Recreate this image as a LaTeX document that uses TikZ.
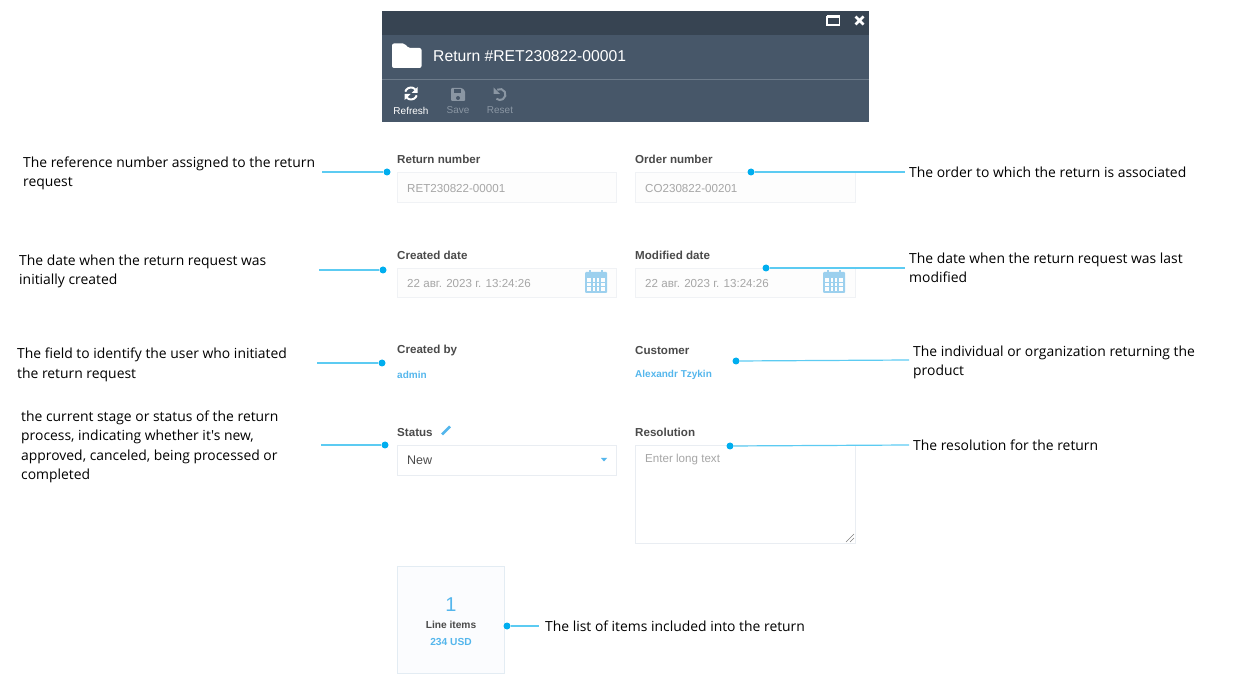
\documentclass[tikz,border=0pt]{standalone}
\usepackage{fontspec}
\setmainfont{Open Sans}[Ligatures=TeXOff]
\newfontfamily\uifont{Liberation Sans}
\usetikzlibrary{positioning}
\definecolor{pinblue}{HTML}{00AEEF}
\definecolor{pinline}{HTML}{5CCBF2}
\definecolor{barDark}{HTML}{374452}
\definecolor{barMain}{HTML}{475769}
\definecolor{barRule}{HTML}{6D7B8A}
\definecolor{barMuted}{HTML}{8A96A3}
\definecolor{fieldRule}{HTML}{F0F2F5}
\definecolor{openRule}{HTML}{E9EDF2}
\definecolor{tileRule}{HTML}{E3ECF3}
\definecolor{tileFill}{HTML}{FBFCFE}
\definecolor{fieldFill}{HTML}{FDFDFD}
\definecolor{labelInk}{HTML}{4A4A4A}
\definecolor{hintInk}{HTML}{A6A6A6}
\definecolor{linkBlue}{HTML}{54B6EC}
\definecolor{calBlue}{HTML}{9CD0EE}
\begin{document}
\begin{tikzpicture}[x=1pt,y=-1pt,
  note/.style={anchor=west,inner sep=0pt,align=left,text=black,font=\fontsize{13.9}{19.5}\selectfont},
  pin/.style={circle,fill=pinblue,inner sep=0pt,minimum size=7pt},
  pinwire/.style={pinline,line width=1.2pt},
  fieldlabel/.style={anchor=west,inner sep=0pt,text=labelInk,font=\uifont\fontsize{11.6}{14}\selectfont\bfseries},
  fieldbox/.style={draw=fieldRule,fill=fieldFill,line width=1pt},
  openbox/.style={draw=openRule,fill=white,line width=1pt},
  hint/.style={anchor=west,inner sep=0pt,text=hintInk,font=\uifont\fontsize{11.6}{14}\selectfont},
  link/.style={anchor=west,inner sep=0pt,text=linkBlue,font=\uifont\fontsize{10}{12}\selectfont\bfseries},
  toolbtn/.style={inner sep=0pt,font=\uifont\fontsize{10}{12}\selectfont}]
\useasboundingbox (0,0) rectangle (1248,700);
% Window header
\fill[barMain] (382,11) rectangle (869,122);
\fill[barDark] (382,11) rectangle (869,35);
\draw[barRule] (382,79) -- (869,79);
\node[anchor=west,inner sep=0pt,text=white,font=\uifont\fontsize{15.7}{20}\selectfont] (title) at (433,56) {Return \#RET230822-00001};
% Window buttons
\draw[white,line width=1.3pt] (827,17) rectangle (839.5,25);
\draw[white,line width=3pt] (826.5,17) -- (840,17);
\draw[white,line width=2.6pt] (855.5,16.5) -- (863.5,24.5) (863.5,16.5) -- (855.5,24.5);
% Folder icon
\fill[white,rounded corners=2pt] (392,68) -- (392,43.5) -- (405,43.5) -- (408,48) -- (421.5,48) -- (421.5,68) -- cycle;
% Toolbar
\node[toolbtn,text=white] (refresh) at (411,110.5) {Refresh};
\node[toolbtn,text=barMuted] (save) at (458,110.5) {Save};
\node[toolbtn,text=barMuted] (reset) at (500,110.5) {Reset};
\draw[white,line width=2pt] (411,93.5) ++(198:6) arc (198:315:6);
\draw[white,line width=2pt] (411,93.5) ++(18:6) arc (18:135:6);
\fill[white] (417.5,87) -- (417.5,93) -- (411.5,93) -- cycle;
\fill[white] (404.5,100) -- (404.5,94) -- (410.5,94) -- cycle;
\fill[barMuted,rounded corners=1pt] (451,88) -- (462,88) -- (465,91) -- (465,101) -- (451,101) -- cycle;
\fill[barMain] (454,89) rectangle (461,93);
\fill[barMain] (458,98) circle [radius=2];
\draw[barMuted,line width=2pt] (500,94.5) ++(-120:5.5) arc (-120:130:5.5);
\fill[barMuted] (493.5,87.5) -- (493.5,94) -- (500,94) -- cycle;
% Fields, first row
\node[fieldlabel] (returnlbl) at (397,159) {Return number};
\node[fieldlabel] (orderlbl) at (635,159) {Order number};
\draw[fieldbox] (397,173) rectangle (616.5,203);
\draw[fieldbox] (635,173) rectangle (855,203);
\node[hint] (returnval) at (407,189) {RET230822-00001};
\node[hint] (orderval) at (645,189) {CO230822-00201};
% Fields, second row
\node[fieldlabel] (createdlbl) at (397,255) {Created date};
\node[fieldlabel] (modifiedlbl) at (635,255) {Modified date};
\draw[fieldbox] (397,269) rectangle (616.5,298);
\draw[fieldbox] (635,269) rectangle (855,298);
\node[hint] (createdval) at (407,284) {22 авг. 2023 г. 13:24:26};
\node[hint] (modifiedval) at (645,284) {22 авг. 2023 г. 13:24:26};
% Calendar icons
\foreach \cx in {585,823} {
  \fill[calBlue,rounded corners=1pt] (\cx,272) rectangle ++(22,21);
  \fill[fieldFill] (\cx+2,278) rectangle ++(18,13);
  \fill[calBlue] (\cx+4,270) rectangle ++(2,4);
  \fill[calBlue] (\cx+16,270) rectangle ++(2,4);
  \foreach \gx in {6,10,14} \fill[calBlue] (\cx+\gx,278) rectangle ++(1.5,13);
  \foreach \gy in {282,286} \fill[calBlue] (\cx+2,\gy) rectangle ++(18,1.5);
}
% Fields, third row
\node[fieldlabel] (bylbl) at (397,350.5) {Created by};
\node[fieldlabel] (customerlbl) at (635,350.5) {Customer};
\node[link] (byval) at (397,374.5) {admin};
\node[link] (customerval) at (635,374.5) {Alexandr Tzykin};
% Status and resolution
\node[fieldlabel] (statuslbl) at (397,432.5) {Status};
\node[fieldlabel] (resolutionlbl) at (635,432.5) {Resolution};
\draw[linkBlue,line width=2.6pt] (442,434.5) -- (450,426.5);
\draw[openbox] (397,446) rectangle (616.5,475);
\node[anchor=west,inner sep=0pt,text=labelInk,font=\uifont\fontsize{12.5}{14}\selectfont] (statusval) at (407,460) {New};
\fill[linkBlue] (601,458) -- (607,458) -- (604,461.5) -- cycle;
\draw[openbox] (635,446) rectangle (855,543);
\node[hint] (resolutionval) at (645,460) {Enter long text};
\draw[gray,line width=.5pt] (846,542) -- (854,534) (850,542) -- (854,538);
% Line items tile
\draw[draw=tileRule,fill=tileFill,line width=1pt] (397,566) rectangle (504.5,673);
\node[inner sep=0pt,text=linkBlue,font=\uifont\fontsize{20}{22}\selectfont] (itemcount) at (451,604.5) {1};
\node[inner sep=0pt,text=labelInk,font=\uifont\fontsize{10.2}{12}\selectfont\bfseries] (itemname) at (451,625) {Line items};
\node[inner sep=0pt,text=linkBlue,font=\uifont\fontsize{10.2}{12}\selectfont\bfseries] (itemsum) at (451,641.5) {234 USD};
% Notes on the left
\node[note] (returnnote) at (23,173.5) {The reference number assigned to the return\\request};
\node[note] (creatednote) at (19,271.5) {The date when the return request was\\initially created};
\node[note] (bynote) at (17,365) {The field to identify the user who initiated\\the return request};
\node[note] (statusnote) at (21,447) {the current stage or status of the return\\process, indicating whether it's new,\\approved, canceled, being processed or\\completed};
% Notes on the right
\node[note] (ordernote) at (909,172) {The order to which the return is associated};
\node[note] (modifiednote) at (909,268) {The date when the return request was last\\modified};
\node[note] (customernote) at (913,362.5) {The individual or organization returning the\\product};
\node[note] (resolutionnote) at (913,445) {The resolution for the return};
\node[note] (itemsnote) at (545,626) {The list of items included into the return};
% Pins
\node[pin] (returnpin) at (387,172) {};
\node[pin] (orderpin) at (751,172) {};
\node[pin] (createdpin) at (383,270) {};
\node[pin] (modifiedpin) at (766,268) {};
\node[pin] (bypin) at (382,363) {};
\node[pin] (customerpin) at (736,361) {};
\node[pin] (statuspin) at (385,445) {};
\node[pin] (resolutionpin) at (730,446) {};
\node[pin] (itemspin) at (507,626) {};
% Free ends of the wires
\coordinate (returnend) at (322,172);
\coordinate (orderend) at (905,172);
\coordinate (createdend) at (319,270);
\coordinate (modifiedend) at (905,268);
\coordinate (byend) at (317,363);
\coordinate (customerend) at (909,360);
\coordinate (statusend) at (321,445);
\coordinate (resolutionend) at (909,445);
\coordinate (itemsend) at (539,626);
% Wires
\foreach \w in {return,order,created,modified,by,customer,status,resolution,items}
  \draw[pinwire] (\w pin) -- (\w end);
\end{tikzpicture}
\end{document}
